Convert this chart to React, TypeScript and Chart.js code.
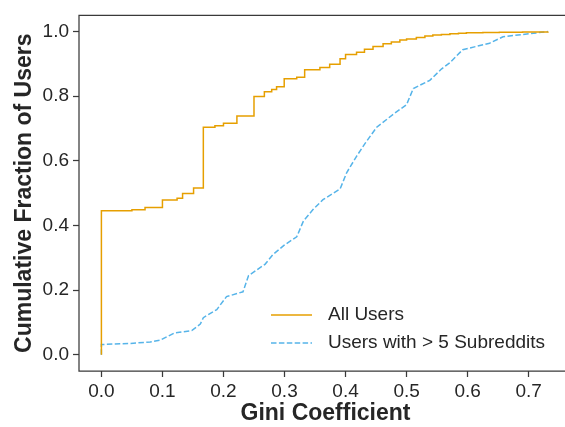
import { useEffect, useRef } from "react";
import { Chart, registerables } from "chart.js";

Chart.register(...registerables);

// ---- data ----
const allUsersGini = [0, 0, 0.05, 0.0715, 0.1, 0.124, 0.133, 0.151, 0.167, 0.186, 0.2, 0.222, 0.25, 0.267, 0.279, 0.287, 0.2995, 0.32, 0.333, 0.358, 0.374, 0.391, 0.4, 0.418, 0.431, 0.445, 0.4615, 0.475, 0.489, 0.5, 0.516, 0.53, 0.543, 0.557, 0.571, 0.585, 0.598, 0.625, 0.652, 0.69, 0.7316];
const allUsersCdf = [0, 0.446, 0.449, 0.456, 0.479, 0.484, 0.499, 0.516, 0.704, 0.709, 0.716, 0.739, 0.799, 0.814, 0.821, 0.829, 0.854, 0.859, 0.882, 0.889, 0.899, 0.916, 0.929, 0.936, 0.945, 0.954, 0.962, 0.968, 0.974, 0.977, 0.982, 0.986, 0.989, 0.991, 0.993, 0.995, 0.996, 0.997, 0.998, 0.999, 1.0];

const activeUsersGini = [0, 0, 0.047, 0.08, 0.096, 0.12, 0.148, 0.162, 0.167, 0.189, 0.205, 0.232, 0.241, 0.268, 0.281, 0.3, 0.32, 0.331, 0.347, 0.363, 0.391, 0.402, 0.418, 0.432, 0.451, 0.478, 0.5, 0.511, 0.538, 0.557, 0.571, 0.592, 0.636, 0.658, 0.7316];
const activeUsersCdf = [0, 0.032, 0.035, 0.04, 0.045, 0.068, 0.075, 0.095, 0.115, 0.14, 0.18, 0.195, 0.245, 0.28, 0.31, 0.34, 0.365, 0.414, 0.45, 0.48, 0.513, 0.564, 0.614, 0.654, 0.704, 0.744, 0.774, 0.824, 0.849, 0.884, 0.904, 0.944, 0.964, 0.984, 1.0];

const seriesLabels = ["All Users", "Users with > 5 Subreddits"];
const xTicks = [0, 0.1, 0.2, 0.3, 0.4, 0.5, 0.6, 0.7];
const yTicks = [0, 0.2, 0.4, 0.6, 0.8, 1.0];
const xTitle = "Gini Coefficient";
const yTitle = "Cumulative Fraction of Users";

// ---- styles ----
const FONT = '"Liberation Sans", Arial, Helvetica, sans-serif';
const TEXT = "#262626";
const SPINE = "#3a3a3a";
const ORANGE = "#E69F00";
const BLUE = "#56B4E9";

const framePlugin = {
  id: "frame",
  afterDraw(chart: any) {
    const { ctx, chartArea: a } = chart;
    ctx.save();
    ctx.strokeStyle = SPINE;
    ctx.lineWidth = 1.25;
    ctx.beginPath();
    ctx.moveTo(a.right, a.top);
    ctx.lineTo(a.left, a.top);
    ctx.lineTo(a.left, a.bottom);
    ctx.lineTo(a.right, a.bottom);
    ctx.stroke();
    ctx.restore();
  },
};

const legendPlugin = {
  id: "inlineLegend",
  afterDraw(chart: any) {
    const { ctx, chartArea: a } = chart;
    const x0 = a.left + 192;
    const lineLen = 41;
    const rows = [a.bottom - 56, a.bottom - 28];
    ctx.save();
    chart.data.datasets.forEach((ds: any, i: number) => {
      const y = rows[i];
      ctx.beginPath();
      ctx.strokeStyle = ds.borderColor;
      ctx.lineWidth = ds.borderWidth;
      ctx.setLineDash(ds.borderDash || []);
      ctx.moveTo(x0, y);
      ctx.lineTo(x0 + lineLen, y);
      ctx.stroke();
      ctx.setLineDash([]);
      ctx.fillStyle = TEXT;
      ctx.font = `19px ${FONT}`;
      ctx.textAlign = "left";
      ctx.textBaseline = "middle";
      ctx.fillText(ds.label, x0 + lineLen + 16, y);
    });
    ctx.restore();
  },
};

export default function App() {
  const ref = useRef<HTMLCanvasElement | null>(null);

  useEffect(() => {
    if (!ref.current) return;
    const chart = new Chart(ref.current, {
      type: "line",
      data: {
        datasets: [
          {
            label: seriesLabels[0],
            data: allUsersGini.map((x, i) => ({ x, y: allUsersCdf[i] })),
            borderColor: ORANGE,
            borderWidth: 1.5,
            stepped: true,
            pointRadius: 0,
            fill: false,
          },
          {
            label: seriesLabels[1],
            data: activeUsersGini.map((x, i) => ({ x, y: activeUsersCdf[i] })),
            borderColor: BLUE,
            borderWidth: 1.5,
            borderDash: [5.5, 2.4],
            pointRadius: 0,
            tension: 0,
            fill: false,
          },
        ],
      },
      options: {
        animation: false,
        responsive: false,
        devicePixelRatio: 1,
        layout: { padding: { top: 5, right: 3, left: 0, bottom: 0 } },
        plugins: { legend: { display: false }, tooltip: { enabled: false } },
        scales: {
          x: {
            type: "linear",
            min: -0.0367,
            max: 0.771,
            afterBuildTicks: (s: any) => {
              s.ticks = xTicks.map((v) => ({ value: v }));
            },
            afterFit: (s: any) => {
              s.height = 56;
            },
            ticks: {
              autoSkip: false,
              maxRotation: 0,
              padding: 3,
              color: TEXT,
              font: { family: FONT, size: 19 },
              callback: (v: any) => Number(v).toFixed(1),
            },
            grid: {
              drawOnChartArea: false,
              drawTicks: true,
              tickLength: 6,
              tickWidth: 1.25,
              tickColor: SPINE,
            },
            border: { display: false },
            title: {
              display: true,
              text: xTitle,
              color: TEXT,
              font: { family: FONT, size: 23, weight: "bold" },
              padding: { top: 0, bottom: 0 },
            },
          },
          y: {
            type: "linear",
            min: -0.05,
            max: 1.05,
            afterBuildTicks: (s: any) => {
              s.ticks = yTicks.map((v) => ({ value: v }));
            },
            afterFit: (s: any) => {
              s.width = 79;
            },
            ticks: {
              autoSkip: false,
              padding: 4,
              color: TEXT,
              font: { family: FONT, size: 19 },
              callback: (v: any) => Number(v).toFixed(1),
            },
            grid: {
              drawOnChartArea: false,
              drawTicks: true,
              tickLength: 6,
              tickWidth: 1.25,
              tickColor: SPINE,
            },
            border: { display: false },
            title: {
              display: true,
              text: yTitle,
              color: TEXT,
              font: { family: FONT, size: 23, weight: "bold" },
              padding: { top: 11, bottom: 0 },
            },
          },
        },
      },
      plugins: [framePlugin, legendPlugin],
    } as any);
    return () => chart.destroy();
  }, []);

  return (
    <div
      style={{
        position: "fixed",
        left: 0,
        top: 0,
        width: 565,
        height: 427,
        overflow: "hidden",
        background: "#fff",
      }}
    >
      <canvas ref={ref} width={575} height={427} style={{ display: "block" }} />
    </div>
  );
}
